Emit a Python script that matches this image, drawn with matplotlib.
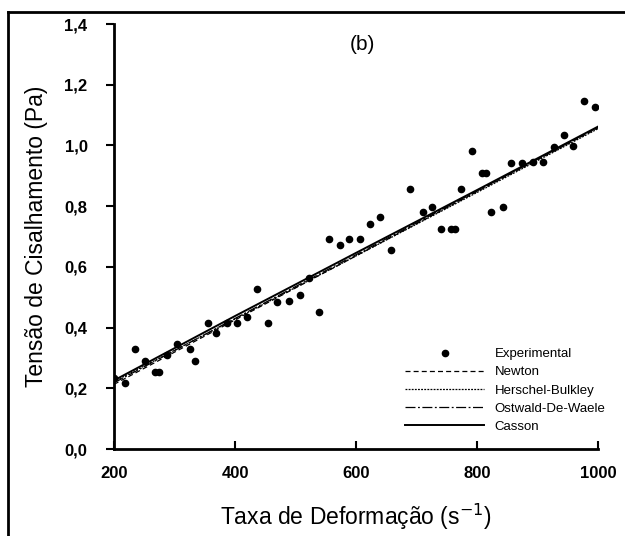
import matplotlib
matplotlib.use("Agg")
import matplotlib.pyplot as plt
from matplotlib.lines import Line2D
from matplotlib.ticker import FuncFormatter

# Experimental data (shear rate s^-1, shear stress Pa)
rate_exp = [200, 218, 235, 251, 268, 274, 287, 304, 325, 334, 356, 369, 387, 404,
            420, 437, 455, 469, 489, 507, 523, 539, 556, 574, 589, 607, 623, 640,
            658, 689, 710, 725, 740, 757, 763, 773, 792, 809, 815, 823, 843, 857,
            875, 893, 909, 928, 944, 959, 977, 995]
stress_exp = [0.233, 0.216, 0.328, 0.290, 0.255, 0.255, 0.310, 0.345, 0.328, 0.290,
              0.414, 0.381, 0.416, 0.414, 0.434, 0.526, 0.414, 0.485, 0.488, 0.507,
              0.564, 0.451, 0.691, 0.672, 0.691, 0.691, 0.741, 0.765, 0.655, 0.855,
              0.782, 0.798, 0.724, 0.724, 0.724, 0.855, 0.983, 0.910, 0.910, 0.780,
              0.798, 0.943, 0.943, 0.946, 0.946, 0.996, 1.034, 0.999, 1.146, 1.128]

# Model curves
rate_fit = [200, 400, 600, 800, 1000]
newton = [0.213, 0.425, 0.636, 0.848, 1.058]
herschel = [0.222, 0.428, 0.636, 0.845, 1.055]
ostwald = [0.218, 0.430, 0.640, 0.850, 1.060]
casson = [0.226, 0.438, 0.646, 0.853, 1.062]

xticks = [200, 400, 600, 800, 1000]
yticks = [0.0, 0.2, 0.4, 0.6, 0.8, 1.0, 1.2, 1.4]

plt.rcParams['font.family'] = ['Liberation Sans', 'DejaVu Sans']

W, H = 625, 536
fig = plt.figure(figsize=(W / 100, H / 100), dpi=100)
ax = fig.add_axes([114 / W, 1 - 449 / H, (598 - 114) / W, (449 - 24) / H])

ax.plot(rate_exp, stress_exp, 'o', color='black', markersize=4.5, label='Experimental', zorder=5)
ax.plot(rate_fit, newton, color='black', lw=0.9, ls=(0, (4, 2.5)), label='Newton')
ax.plot(rate_fit, herschel, color='black', lw=0.9, ls=(0, (1.5, 1)), label='Herschel-Bulkley')
ax.plot(rate_fit, ostwald, color='black', lw=0.9, ls=(0, (8, 2, 1.5, 2)), label='Ostwald-De-Waele')
ax.plot(rate_fit, casson, color='black', lw=1.4, ls='-', label='Casson')

ax.set_xlim(200, 1000)
ax.set_ylim(0, 1.4)
ax.set_xticks(xticks)
ax.set_yticks(yticks)
ax.yaxis.set_major_formatter(FuncFormatter(lambda v, p: f"{v:.1f}".replace('.', ',')))

for s in ['top', 'right']:
    ax.spines[s].set_visible(False)
for s in ['left', 'bottom']:
    ax.spines[s].set_linewidth(2)

ax.tick_params(axis='x', direction='in', length=6, width=1.5, pad=12, labelsize=12)
ax.tick_params(axis='y', direction='out', length=6, width=1.5, pad=13, labelsize=12)
for lab in ax.get_xticklabels() + ax.get_yticklabels():
    lab.set_fontweight('bold')

ax.set_xlabel('Taxa de Deformação (s$^{-1}$)', fontsize=16.5, labelpad=15)
ax.set_ylabel('Tensão de Cisalhamento (Pa)', fontsize=16.5, labelpad=12)

ax.text((362 - 114) / (598 - 114), (449 - 44) / (449 - 24), '(b)', transform=ax.transAxes,
        ha='center', va='center', fontsize=15)

leg = ax.legend(loc='upper left', bbox_to_anchor=((405 - 114) / (598 - 114), (449 - 348) / (449 - 24)),
                frameon=False, fontsize=9.5, handlelength=6.0, handletextpad=0.8,
                labelspacing=0.45, borderpad=0, borderaxespad=0)

# Outer frame (left and top edges visible)
fig.add_artist(Line2D([8 / W, 8 / W], [0, 1 - 12 / H], color='black', lw=2, transform=fig.transFigure))
fig.add_artist(Line2D([8 / W, 1], [1 - 12 / H, 1 - 12 / H], color='black', lw=2, transform=fig.transFigure))

fig.savefig('out.png', dpi=100, facecolor='white')
